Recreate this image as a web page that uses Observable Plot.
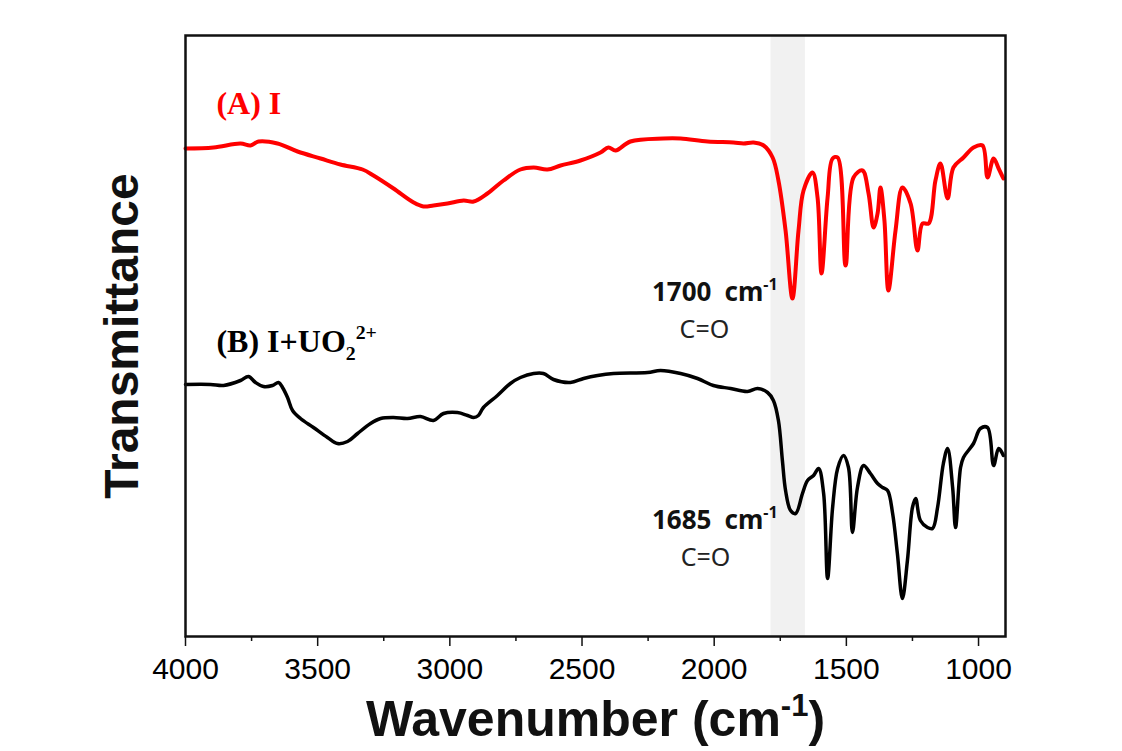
<!DOCTYPE html>
<html>
<head>
<meta charset="utf-8">
<script src="https://cdn.jsdelivr.net/npm/d3@7"></script>
<script src="https://cdn.jsdelivr.net/npm/@observablehq/plot@0.6"></script>
<style>
  html, body { margin: 0; padding: 0; background: #fff; }
  #chart svg { display: block; }
</style>
</head>
<body>
<div id="chart"></div>
<script>
// ---- Data (transmittance in arbitrary units) ----
const wnA = [4000,3894,3792,3754,3724,3652,3576,3489,3414,3330,3289,3213,3137,3100,3062,3009,2948,2910,2858,2797,2733,2683,2631,2581,2506,2430,2400,2373,2317,2192,2127,2025,1927,1889,1851,1813,1779,1757,1730,1704,1681,1662,1628,1609,1594,1571,1552,1533,1503,1473,1439,1416,1397,1382,1371,1356,1341,1314,1288,1257,1231,1212,1189,1163,1144,1117,1095,1057,1019,985,966,943,924,906];
const tA  = [488,489,493,491,495,493,485,478,472,467,461,448,434,430,431,433,436,435,443,456,467,469,467,471,476,484,489,486,495,498,498,495,494,493,494,491,479,456,406,338,406,446,464,439,363,439,478,479,371,459,466,443,409,423,449,416,346,406,449,433,386,413,413,456,473,438,469,479,489,491,459,478,468,458];

const wnB = [4000,3905,3856,3792,3762,3735,3705,3671,3648,3633,3614,3595,3565,3516,3463,3425,3387,3349,3300,3262,3213,3160,3111,3062,3024,2971,2933,2910,2892,2873,2820,2771,2733,2683,2646,2608,2544,2494,2441,2381,2252,2203,2127,2063,2003,1938,1874,1836,1798,1776,1757,1742,1730,1711,1692,1666,1647,1624,1605,1586,1571,1552,1533,1511,1492,1477,1458,1435,1409,1382,1363,1344,1325,1307,1288,1269,1250,1238,1220,1193,1174,1155,1133,1117,1098,1087,1068,1057,1019,993,966,943,924,906];
const tB  = [252,252,251,256,260,254,250,251,254,249,239,226,218,209,199,193,195,203,213,218,219,218,220,216,223,224,221,219,221,229,241,253,259,263,263,257,254,258,261,263,264,266,263,258,251,248,245,248,244,236,216,176,146,126,123,143,156,161,168,143,58,129,168,181,169,104,149,171,163,153,149,146,123,83,38,76,129,138,116,109,108,129,173,188,149,109,169,179,193,208,209,171,188,181];

const xDomain = [4000, 898];
const yDomain = [0, 601];
const majorTicks = [4000, 3500, 3000, 2500, 2000, 1500, 1000];
const minorTicks = [3750, 3250, 2750, 2250, 1750, 1250];
const band = [{x1: 1785, x2: 1655}];

const seriesLabels = [
  {text: "(A) I", wn: 3883, t: 533, color: "red"},
  {text: "(B) I+UO22+", wn: 3883, t: 294.5, color: "black"}
];
const peakLabels = [
  {text: "1700\u2002cm-1", wn: 1760, t: 344},
  {text: "1685\u2002cm-1", wn: 1760, t: 116}
];
const bondLabels = [
  {text: "C=O", wn: 2037, t: 307},
  {text: "C=O", wn: 2033, t: 79}
];
const xTitle = "Wavenumber (cm-1)";
const yTitle = "Transmittance";

const specA = wnA.map((w, i) => ({wn: w, t: tA[i]}));
const specB = wnB.map((w, i) => ({wn: w, t: tB[i]}));

const chart = Plot.plot({
  width: 1122,
  height: 751,
  marginLeft: 185,
  marginRight: 117,
  marginTop: 35,
  marginBottom: 115,
  style: {fontFamily: "'Liberation Sans', Arial, sans-serif", background: "#fff", overflow: "visible"},
  x: {domain: xDomain, axis: null},
  y: {domain: yDomain, axis: null},
  marks: [
    Plot.rect(band, {x1: "x1", x2: "x2", y1: yDomain[0], y2: yDomain[1], fill: "#f1f1f1"}),
    Plot.line(specA, {x: "wn", y: "t", stroke: "#ff0000", strokeWidth: 4, strokeLinejoin: "round", curve: "catmull-rom"}),
    Plot.line(specB, {x: "wn", y: "t", stroke: "#000", strokeWidth: 3.5, strokeLinejoin: "round", curve: "catmull-rom"}),
    Plot.frame({stroke: "#111", strokeWidth: 2.5}),
    Plot.axisX({ticks: majorTicks, tickSize: 10, tickPadding: 11, tickFormat: d => String(d), fontSize: 30, stroke: "#111", strokeWidth: 1.5, label: null}),
    Plot.axisX({ticks: minorTicks, tickSize: 5, tickFormat: () => "", stroke: "#111", strokeWidth: 1.5, label: null}),
    Plot.text([xTitle], {frameAnchor: "bottom", lineAnchor: "middle", dy: 83, fontSize: 50, fontWeight: "bold", fill: "#111"}),
    Plot.text([yTitle], {frameAnchor: "left", textAnchor: "middle", lineAnchor: "middle", dx: -63, rotate: -90, fontSize: 48, fontWeight: "bold", fill: "#111"}),
    Plot.text(seriesLabels, {x: "wn", y: "t", text: "text", fill: "color", textAnchor: "start", fontSize: 32, fontWeight: "bold", fontFamily: "'Liberation Serif', 'Times New Roman', serif"}),
    Plot.text(peakLabels, {x: "wn", y: "t", text: "text", textAnchor: "end", fontSize: 26, fontWeight: "bold", fill: "#111", fontFamily: "'Noto Sans', sans-serif"}),
    Plot.text(bondLabels, {x: "wn", y: "t", text: "text", textAnchor: "middle", fontSize: 25, fill: "#222", fontFamily: "'Noto Sans', sans-serif"})
  ]
});

document.getElementById("chart").appendChild(chart);

// Rich text (super/subscripts) as real text via tspans
function rich(el, parts, base) {
  while (el.firstChild) el.removeChild(el.firstChild);
  let shift = 0;
  for (const p of parts) {
    const ts = document.createElementNS("http://www.w3.org/2000/svg", "tspan");
    const target = p.sup ? -0.4 * base : p.sub ? 0.25 * base : 0;
    if (target - shift !== 0) ts.setAttribute("dy", target - shift);
    shift = target;
    if (p.sup || p.sub) ts.setAttribute("font-size", 0.62 * base);
    ts.textContent = p.t;
    el.appendChild(ts);
  }
}
for (const el of chart.querySelectorAll("text")) {
  const s = el.textContent;
  if (s === xTitle) rich(el, [{t: "Wavenumber (cm"}, {t: "-1", sup: true}, {t: ")"}], 50);
  else if (s === "(B) I+UO22+") rich(el, [{t: "(B) I+UO"}, {t: "2", sub: true}, {t: "2+", sup: true}], 32);
  else if (s.endsWith("cm-1")) rich(el, [{t: s.slice(0, -2)}, {t: "-1", sup: true}], 26);
}
</script>
</body>
</html>
